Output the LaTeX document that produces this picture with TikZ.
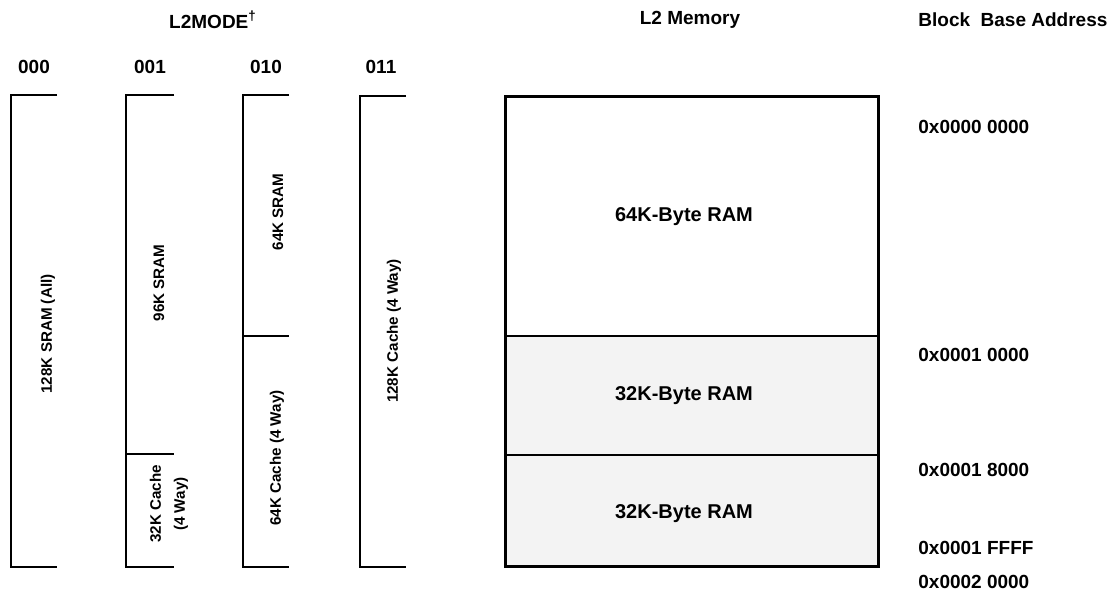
\documentclass[tikz,border=0pt]{standalone}
\usepackage{fontspec}
\setmainfont{Liberation Sans}
\usetikzlibrary{positioning}
\definecolor{ramgray}{RGB}{243,243,243}
\tikzset{
	x=0.5pt, y=-0.5pt,
	head/.style={font=\bfseries\fontsize{9.5}{11}\selectfont, inner sep=0pt},
	addr/.style={head, anchor=west},
	modelabel/.style={font=\bfseries\fontsize{7.6}{12}\selectfont, rotate=90, align=center, inner sep=0pt},
	ramlabel/.style={font=\bfseries\fontsize{10}{12}\selectfont, inner sep=0pt},
	bracket/.style={line width=1.1pt},
	part/.style={line width=0.8pt},
	outline/.style={line width=1.5pt}}

\begin{document}
\begin{tikzpicture}
		\useasboundingbox (0,0) rectangle (1119,592);
		
		% headings
		\node[head] (mode) at (213,20) {L2MODE\textsuperscript{\dag}};
		\node[head] (m000) at (34,67) {000};
		\node[head] (m001) at (150,67) {001};
		\node[head] (m010) at (266,67) {010};
		\node[head] (m011) at (381,67) {011};
		\node[head] (mem) at (690,20) {L2 Memory};
		\node[head, anchor=west] (base) at (918,20) {Block\ \ Base Address};
		
		% L2MODE brackets
		\draw[bracket] (57,95) -| (11,567) -- (57,567);
		\draw[bracket] (174,95) -| (126,567) -- (174,567);
		\draw[bracket] (126,454) -- (174,454);
		\draw[bracket] (289,95) -| (243,567) -- (289,567);
		\draw[bracket] (243,336) -- (289,336);
		\draw[bracket] (406,96) -| (360,567) -- (406,567);
		
		\node[modelabel] (sram128) at (48,334) {128K SRAM (All)};
		\node[modelabel] (sram96) at (159,283) {96K SRAM};
		\node[modelabel] (cache32) at (169,504) {32K Cache\\(4 Way)};
		\node[modelabel] (sram64) at (278,212) {64K SRAM};
		\node[modelabel] (cache64) at (277,458) {64K Cache (4 Way)};
		\node[modelabel] (cache128) at (394,331) {128K Cache (4 Way)};
		
		% L2 memory blocks
		\fill[ramgray] (505,336) rectangle (878,567);
		\draw[part] (505,336) -- (878,336);
		\draw[part] (505,455) -- (878,455);
		\draw[outline] (505,97) rectangle (878,567);
		
		\node[ramlabel] (ram64) at (684,217) {64K-Byte RAM};
		\node[ramlabel] (ram32a) at (684,396) {32K-Byte RAM};
		\node[ramlabel] (ram32b) at (684,514) {32K-Byte RAM};
		
		% base addresses
		\node[addr] (a0) at (918,127) {0x0000 0000};
		\node[addr] (a1) at (918,355) {0x0001 0000};
		\node[addr] (a2) at (918,470) {0x0001 8000};
		\node[addr] (a3) at (918,548) {0x0001 FFFF};
		\node[addr] (a4) at (918,582) {0x0002 0000};
	\end{tikzpicture}
\end{document}
